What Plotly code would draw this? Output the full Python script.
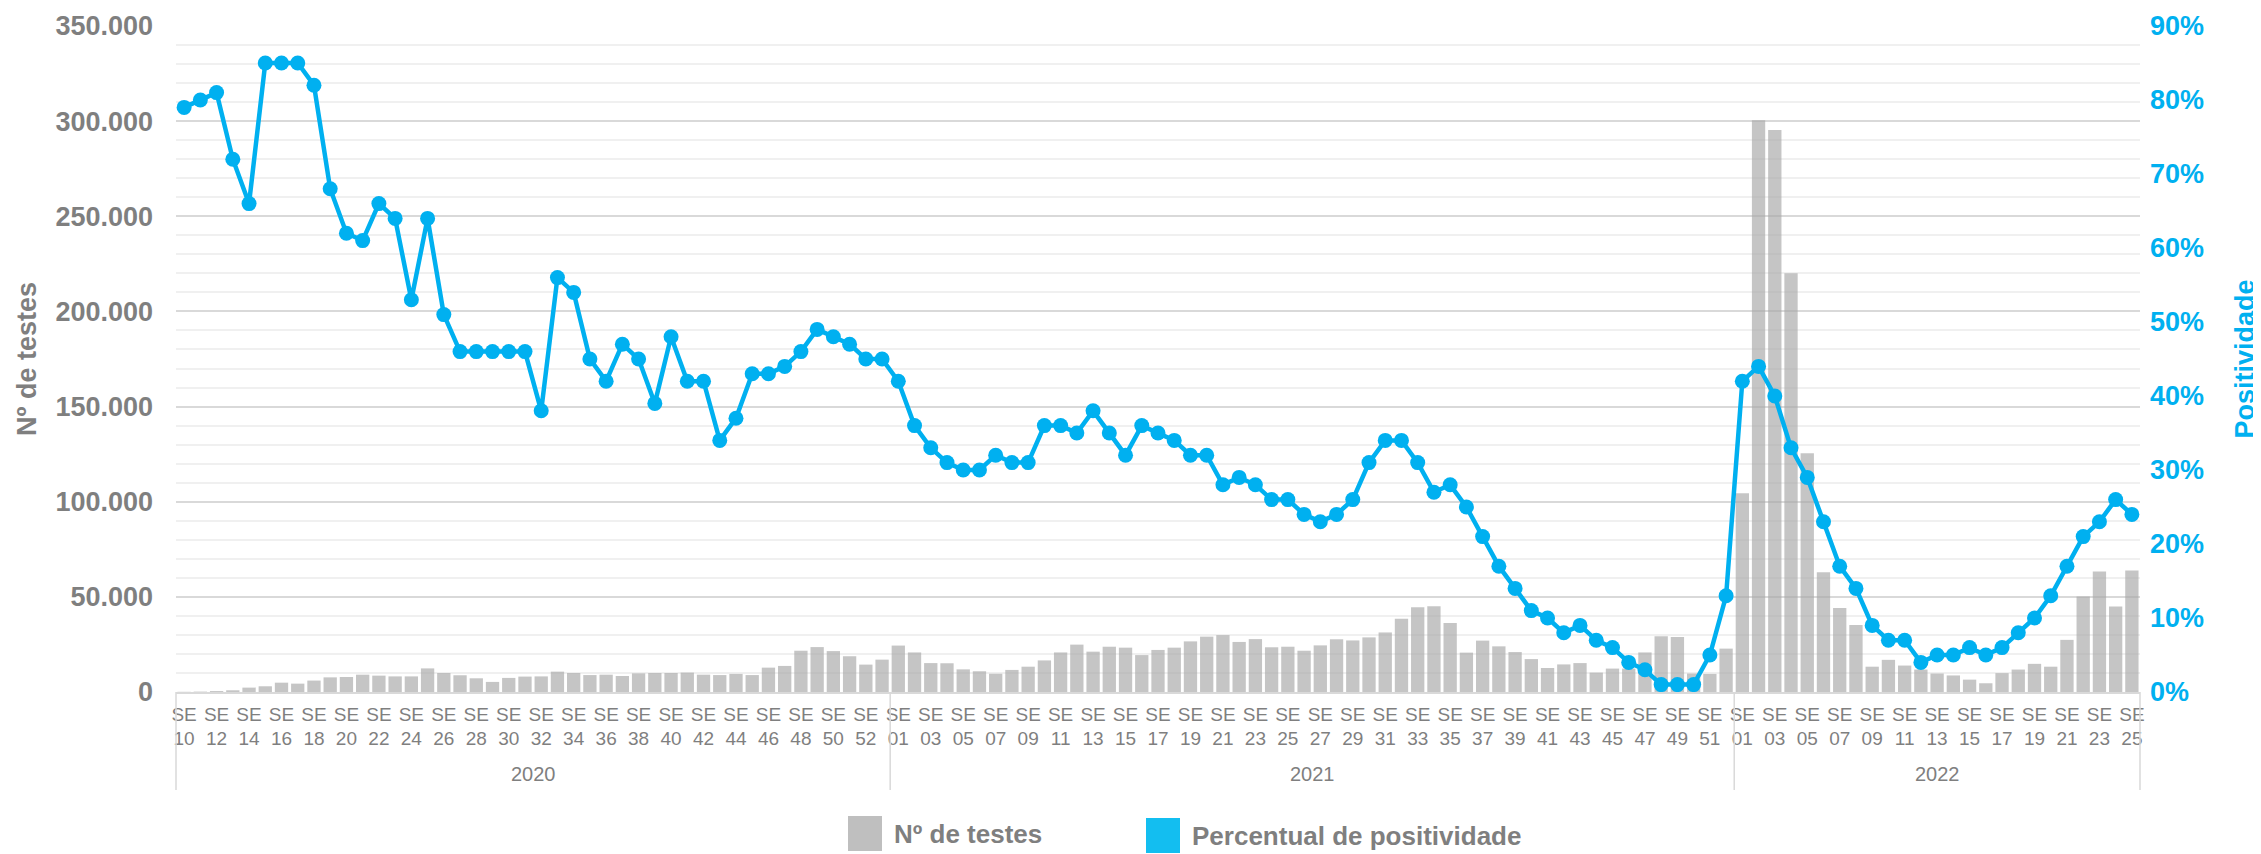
import plotly.graph_objects as go

# semanas epidemiologicas por ano
semanas_2020 = list(range(10, 54))
semanas_2021 = list(range(1, 53))
semanas_2022 = list(range(1, 26))

# Nº de testes por semana
testes_2020 = [100, 200, 500, 900, 2300, 3000, 4900, 4400, 6000, 7700, 7900, 9100, 8600, 8200, 8200,
               12400, 10000, 8800, 7200, 5300, 7400, 8100, 8200, 10700, 10000, 8900, 9100, 8400, 9800,
               10000, 10000, 10200, 9100, 8900, 9500, 8900, 12800, 13700, 21700, 23600, 21500, 18800,
               14400, 17000]
testes_2021 = [24400, 20800, 15200, 15100, 11900, 10900, 9600, 11600, 13300, 16600, 20800, 24900, 21200,
               23800, 23300, 19400, 22100, 23300, 26600, 29100, 29900, 26300, 27800, 23500, 23800, 21700,
               24500, 27700, 27100, 28700, 31300, 38500, 44500, 45000, 36300, 20700, 27000, 24000, 21000,
               17300, 12600, 14500, 15200, 10200, 12300, 12300, 20800, 29300, 28900, 9700, 9500, 22800]
testes_2022 = [104500, 300500, 295400, 220000, 125500, 62900, 44100, 35200, 13300, 16900, 13900, 11800,
               9700, 8700, 6500, 4600, 9900, 11800, 14800, 13300, 27400, 50200, 63300, 44900, 63900]

# percentual de positividade (%)
positividade_2020 = [79, 80, 81, 72, 66, 85, 85, 85, 82, 68, 62, 61, 66, 64, 53, 64, 51, 46, 46, 46, 46, 46,
                     38, 56, 54, 45, 42, 47, 45, 39, 48, 42, 42, 34, 37, 43, 43, 44, 46, 49, 48, 47, 45, 45]
positividade_2021 = [42, 36, 33, 31, 30, 30, 32, 31, 31, 36, 36, 35, 38, 35, 32, 36, 35, 34, 32, 32, 28, 29,
                     28, 26, 26, 24, 23, 24, 26, 31, 34, 34, 31, 27, 28, 25, 21, 17, 14, 11, 10, 8, 9, 7,
                     6, 4, 3, 1, 1, 1, 5, 13]
positividade_2022 = [42, 44, 40, 33, 29, 23, 17, 14, 9, 7, 7, 4, 5, 5, 6, 5, 6, 8, 10, 13, 17, 21, 23, 26, 24]

anos = ["2020", "2021", "2022"]
semanas = [semanas_2020, semanas_2021, semanas_2022]
testes = testes_2020 + testes_2021 + testes_2022
positividade = [p / 100 for p in positividade_2020 + positividade_2021 + positividade_2022]

categorias = [f"{a}-SE{s:02d}" for a, ss in zip(anos, semanas) for s in ss]
rotulos = [f"SE<br>{s:02d}" for ss in semanas for s in ss]
n = len(categorias)

CINZA = "#7F7F7F"
AZUL = "#00B0F0"
GRADE = "#D9D9D9"
FONTE = "Liberation Sans, Arial, sans-serif"

# a pagina html tem margem de 8px no body, por isso a figura fica 8px menor
W, H = 2261 - 8, 854 - 8

fig = go.Figure()
fig.add_trace(go.Bar(x=categorias, y=testes, name="Nº de testes",
                     marker=dict(color="rgba(166,166,166,0.65)", line=dict(width=0))))
fig.add_trace(go.Scatter(x=categorias, y=positividade, name="Percentual de positividade", yaxis="y2",
                         mode="lines+markers", line=dict(color=AZUL, width=4.5),
                         marker=dict(color=AZUL, size=15)))

fig.update_layout(
    width=W, height=H, template="none",
    paper_bgcolor="white", plot_bgcolor="white",
    margin=dict(l=168, r=121, t=18, b=162),
    separators=",.", showlegend=False, bargap=0.18,
    font=dict(family=FONTE, color=CINZA),
    xaxis=dict(type="category", range=[-0.5, n - 0.5], tickvals=categorias[::2], ticktext=rotulos[::2],
               tickangle=0, tickfont=dict(size=19, color=CINZA), ticks="", ticklabelstandoff=4,
               showgrid=False, showline=True, linecolor=GRADE, linewidth=1.5, zeroline=False),
    yaxis=dict(range=[0, 350000], tick0=0, dtick=50000, tickformat=",.0f",
               tickfont=dict(size=27, color=CINZA, weight="bold"), ticklabelstandoff=22,
               showgrid=True, gridcolor=GRADE, gridwidth=1.5, zeroline=False, showline=False,
               minor=dict(dtick=10000, showgrid=True, gridcolor="#F0F0F0", gridwidth=1.5),
               title=dict(text="Nº de testes", font=dict(size=27, color=CINZA, weight="bold"), standoff=10)),
    yaxis2=dict(overlaying="y", side="right", range=[0, 0.9], tick0=0, dtick=0.1, tickformat=".0%",
                tickfont=dict(size=27, color=AZUL, weight="bold"), ticklabelstandoff=9,
                showgrid=False, zeroline=False, showline=False,
                title=dict(text="Positividade", font=dict(size=27, color=AZUL, weight="bold"), standoff=32)),
)

# divisores e rotulos dos anos abaixo do eixo
fronteiras = [0]
for ss in semanas:
    fronteiras.append(fronteiras[-1] + len(ss))
for b in fronteiras:
    fig.add_shape(type="line", xref="paper", yref="paper", x0=b / n, x1=b / n, y0=0, y1=-0.147,
                  line=dict(color=GRADE, width=1.5))
for i, ano in enumerate(anos):
    centro = (fronteiras[i] + fronteiras[i + 1] - 1) / 2
    fig.add_annotation(x=centro, y=-0.123, xref="x", yref="paper", text=ano, showarrow=False,
                       font=dict(size=20, color=CINZA), yanchor="middle")

# legenda desenhada a mao (quadrados grandes como no original)
def px_x(p):
    return (p - 176) / 1964

def px_y(p):
    return (692 - p) / 666

legenda = [("Nº de testes", "#BFBFBF", 848, 816, 851), ("Percentual de positividade", "#13BEF0", 1146, 818, 853)]
for texto, cor, x0, y0, y1 in legenda:
    fig.add_shape(type="rect", xref="paper", yref="paper", x0=px_x(x0), x1=px_x(x0 + 34),
                  y0=px_y(y1), y1=px_y(y0), fillcolor=cor, line=dict(width=0))
    fig.add_annotation(x=px_x(x0 + 44), y=px_y((y0 + y1) / 2), xref="paper", yref="paper", text=texto,
                       showarrow=False, xanchor="left", yanchor="middle",
                       font=dict(size=26, color=CINZA, weight="bold"))

fig.write_html("out.html")
